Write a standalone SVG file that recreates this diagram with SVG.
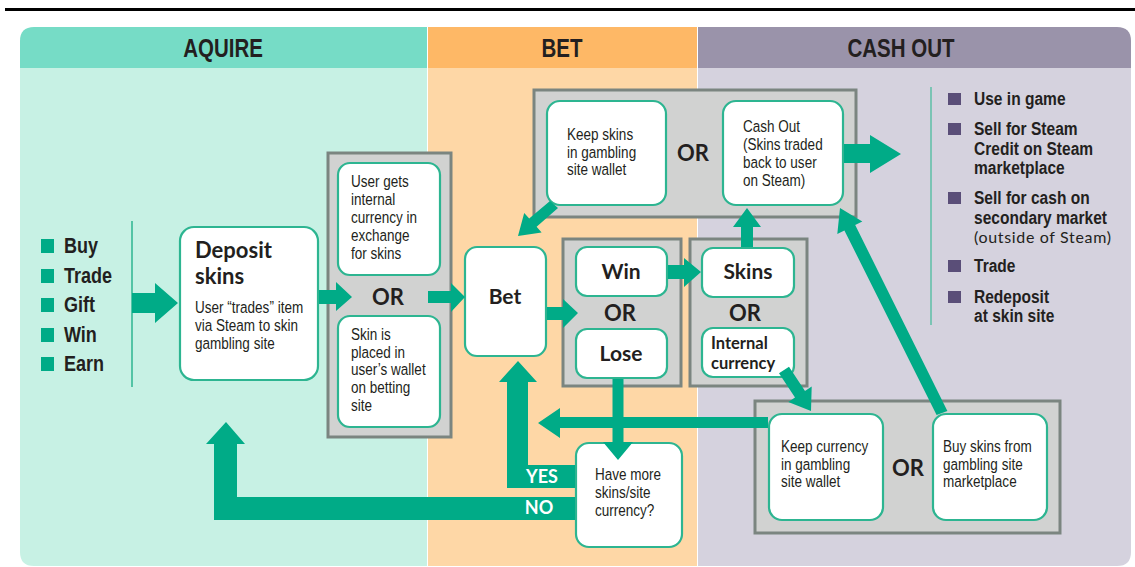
<svg xmlns="http://www.w3.org/2000/svg" width="1135" height="567" viewBox="0 0 1135 567">
<style>
.cond{font-family:"Liberation Sans",Arial,sans-serif;fill:#231f20}
.geo{font-family:Lato,"Noto Sans",sans-serif;font-weight:bold;fill:#231f20}
.hdr{font-size:25px;font-weight:bold;text-anchor:middle}
.lst{font-size:22px;font-weight:bold}
.cl{font-size:18.5px;font-weight:bold}
.sm{font-size:16.5px}
.big{font-size:21px;text-anchor:middle}
.or{font-size:22px;text-anchor:middle}
.box{fill:#fff;stroke:#2db591;stroke-width:2.2}
.grp{fill:#d1d2d1;stroke:#7b8580;stroke-width:3}
.arr{fill:#00ab87}
.wt{fill:#fff;font-size:18px;text-anchor:middle}
</style>
<rect x="0" y="0" width="1135" height="567" fill="#fff"/>
<rect x="5" y="8" width="1130" height="3" fill="#000"/>
<g id="panel-aquire">
<path d="M20,68 V41 Q20,27 34,27 H427 V68 Z" fill="#76dcc6"/>
<path d="M20,68 H427 V566 H34 Q20,566 20,552 Z" fill="#c7f1e4"/>
<text class="cond hdr" transform="translate(223,57) scale(0.82,1)">AQUIRE</text>
</g>
<g id="panel-bet">
<rect x="428" y="27" width="269" height="41" fill="#feb866"/>
<rect x="428" y="68" width="269" height="498" fill="#fed7a6"/>
<text class="cond hdr" transform="translate(562,57) scale(0.82,1)">BET</text>
</g>
<g id="panel-cashout">
<path d="M698,27 H1117 Q1131,27 1131,41 V68 H698 Z" fill="#9a93aa"/>
<path d="M698,68 H1131 V552 Q1131,566 1117,566 H698 Z" fill="#d5d2de"/>
<text class="cond hdr" transform="translate(901,57) scale(0.82,1)">CASH OUT</text>
</g>
<g id="acquire-list">
<line x1="132" y1="221" x2="132" y2="387" stroke="#2db591" stroke-width="1.5"/>
<rect x="41" y="239" width="13" height="14" fill="#00ab87"/>
<rect x="41" y="269" width="13" height="14" fill="#00ab87"/>
<rect x="41" y="298" width="13" height="14" fill="#00ab87"/>
<rect x="41" y="328" width="13" height="14" fill="#00ab87"/>
<rect x="41" y="357" width="13" height="14" fill="#00ab87"/>
<text class="cond lst" transform="translate(64,253) scale(0.82,1)">Buy</text>
<text class="cond lst" transform="translate(64,283) scale(0.82,1)">Trade</text>
<text class="cond lst" transform="translate(64,312) scale(0.82,1)">Gift</text>
<text class="cond lst" transform="translate(64,342) scale(0.82,1)">Win</text>
<text class="cond lst" transform="translate(64,371) scale(0.82,1)">Earn</text>
</g>
<g id="cashout-list">
<line x1="931" y1="87" x2="931" y2="325" stroke="#5dbfa6" stroke-width="1.5"/>
<rect x="948" y="93" width="13" height="12" fill="#5a4e78"/>
<rect x="948" y="123" width="13" height="12" fill="#5a4e78"/>
<rect x="948" y="192" width="13" height="12" fill="#5a4e78"/>
<rect x="948" y="260" width="13" height="12" fill="#5a4e78"/>
<rect x="948" y="291" width="13" height="12" fill="#5a4e78"/>
<text class="cond cl" transform="translate(974,105) scale(0.84,1)">Use in game</text>
<text class="cond cl" transform="translate(974,135) scale(0.84,1)">Sell for Steam</text>
<text class="cond cl" transform="translate(974,155) scale(0.84,1)">Credit on Steam</text>
<text class="cond cl" transform="translate(974,174) scale(0.84,1)">marketplace</text>
<text class="cond cl" transform="translate(974,204) scale(0.84,1)">Sell for cash on</text>
<text class="cond cl" transform="translate(974,224) scale(0.84,1)">secondary market</text>
<text x="974" y="243" font-family="Lato,'Noto Sans',sans-serif" font-size="16" fill="#231f20" textLength="137" lengthAdjust="spacing">(outside of Steam)</text>
<text class="cond cl" transform="translate(974,272) scale(0.84,1)">Trade</text>
<text class="cond cl" transform="translate(974,303) scale(0.84,1)">Redeposit</text>
<text class="cond cl" transform="translate(974,322) scale(0.84,1)">at skin site</text>
</g>
<g id="group-deposit-or">
<rect class="grp" x="328" y="153" width="123" height="284"/>
<text class="geo or" x="388" y="305">OR</text>
</g>
<g id="group-top-or">
<rect class="grp" x="534" y="90" width="322" height="127"/>
<text class="geo or" x="693" y="161">OR</text>
</g>
<g id="group-winlose">
<rect class="grp" x="563" y="239" width="118" height="147"/>
<text class="geo or" x="620" y="321">OR</text>
</g>
<g id="group-result">
<rect class="grp" x="690" y="239" width="117" height="147"/>
<text class="geo or" x="745" y="321">OR</text>
</g>
<g id="group-bottom-or">
<rect class="grp" x="755" y="401" width="305" height="132"/>
<text class="geo or" x="908" y="476">OR</text>
</g>
<g id="deposit">
<rect class="box" x="180" y="227" width="138" height="153" rx="14"/>
<text class="geo" x="195" y="258" font-size="22">Deposit</text>
<text class="geo" x="195" y="284" font-size="22">skins</text>
<text class="cond sm" transform="translate(195,313) scale(0.82,1)">User “trades” item</text>
<text class="cond sm" transform="translate(195,331) scale(0.82,1)">via Steam to skin</text>
<text class="cond sm" transform="translate(195,349) scale(0.82,1)">gambling site</text>
</g>
<g id="internal-currency-exchange">
<rect class="box" x="338" y="163" width="102" height="112" rx="12"/>
<text class="cond sm" transform="translate(351,187) scale(0.82,1)">User gets</text>
<text class="cond sm" transform="translate(351,205) scale(0.82,1)">internal</text>
<text class="cond sm" transform="translate(351,223) scale(0.82,1)">currency in</text>
<text class="cond sm" transform="translate(351,241) scale(0.82,1)">exchange</text>
<text class="cond sm" transform="translate(351,259) scale(0.82,1)">for skins</text>
</g>
<g id="skin-wallet">
<rect class="box" x="338" y="316" width="102" height="111" rx="12"/>
<text class="cond sm" transform="translate(351,340) scale(0.82,1)">Skin is</text>
<text class="cond sm" transform="translate(351,358) scale(0.82,1)">placed in</text>
<text class="cond sm" transform="translate(351,375) scale(0.82,1)">user’s wallet</text>
<text class="cond sm" transform="translate(351,393) scale(0.82,1)">on betting</text>
<text class="cond sm" transform="translate(351,411) scale(0.82,1)">site</text>
</g>
<g id="bet">
<rect class="box" x="465" y="247" width="81" height="109" rx="12"/>
<text class="geo big" x="505" y="304">Bet</text>
</g>
<g id="win">
<rect class="box" x="576" y="247" width="91" height="49" rx="11"/>
<text class="geo big" x="621" y="279">Win</text>
</g>
<g id="lose">
<rect class="box" x="576" y="329" width="91" height="49" rx="11"/>
<text class="geo big" x="621" y="361">Lose</text>
</g>
<g id="skins">
<rect class="box" x="702" y="248" width="92" height="49" rx="11"/>
<text class="geo big" x="748" y="279">Skins</text>
</g>
<g id="internal-currency">
<rect class="box" x="702" y="328" width="92" height="49" rx="11"/>
<text class="geo" x="711" y="349" font-size="16.5">Internal</text>
<text class="geo" x="711" y="369" font-size="16.5">currency</text>
</g>
<g id="keep-skins">
<rect class="box" x="547" y="101" width="119" height="104" rx="13"/>
<text class="cond sm" transform="translate(567,140) scale(0.82,1)">Keep skins</text>
<text class="cond sm" transform="translate(567,158) scale(0.82,1)">in gambling</text>
<text class="cond sm" transform="translate(567,175) scale(0.82,1)">site wallet</text>
</g>
<g id="cash-out">
<rect class="box" x="723" y="101" width="120" height="104" rx="13"/>
<text class="cond sm" transform="translate(743,132) scale(0.82,1)">Cash Out</text>
<text class="cond sm" transform="translate(743,150) scale(0.82,1)">(Skins traded</text>
<text class="cond sm" transform="translate(743,168) scale(0.82,1)">back to user</text>
<text class="cond sm" transform="translate(743,186) scale(0.82,1)">on Steam)</text>
</g>
<g id="keep-currency">
<rect class="box" x="769" y="414" width="114" height="106" rx="13"/>
<text class="cond sm" transform="translate(781,452) scale(0.82,1)">Keep currency</text>
<text class="cond sm" transform="translate(781,470) scale(0.82,1)">in gambling</text>
<text class="cond sm" transform="translate(781,487) scale(0.82,1)">site wallet</text>
</g>
<g id="buy-skins">
<rect class="box" x="933" y="414" width="114" height="106" rx="13"/>
<text class="cond sm" transform="translate(943,452) scale(0.82,1)">Buy skins from</text>
<text class="cond sm" transform="translate(943,470) scale(0.82,1)">gambling site</text>
<text class="cond sm" transform="translate(943,487) scale(0.82,1)">marketplace</text>
</g>
<g id="have-more">
<rect class="box" x="576" y="443" width="106" height="104" rx="13"/>
<text class="cond sm" transform="translate(595,480) scale(0.82,1)">Have more</text>
<text class="cond sm" transform="translate(595,498) scale(0.82,1)">skins/site</text>
<text class="cond sm" transform="translate(595,516) scale(0.82,1)">currency?</text>
</g>
<g id="connectors">
<polygon class="arr" points="132,293 155,293 155,283 178,303 155,323 155,313 132,313"/>
<polygon class="arr" points="319,290 336,290 336,282 352,297 336,311 336,304 319,304"/>
<polygon class="arr" points="428,291 451,291 451,283 465,297 451,312 451,303 428,303"/>
<polygon class="arr" points="547,307 563,307 563,299 578,313 563,328 563,320 547,320"/>
<polygon class="arr" points="668,265 684,265 684,258 701,272 684,287 684,279 668,279"/>
<polygon class="arr" points="741,247 741,227 733,227 747,208 761,227 753,227 753,247"/>
<polygon class="arr" points="779,373.3 789,366.7 805,391 811.7,386.6 811,411 788.3,402 795,397.6"/>
<polygon class="arr" points="550,201 558,208 536.6,226.8 541.6,232.4 518,236 524.2,213 529.2,218.6"/>
<polygon class="arr" points="936.6,415 947.4,411 855.2,225 862.3,221.5 840,208 837.3,233.9 844.4,230.4"/>
<polygon class="arr" points="844,144 870,144 870,135 901,154 870,173 870,163 844,163"/>
<polygon class="arr" points="612.5,379 623.5,379 623.5,442 633,442 618,460 603,442 612.5,442"/>
<polygon class="arr" points="768,417 560,417 560,408 538,423 560,438 560,428 768,428"/>
<polygon class="arr" points="575,465 528,465 528,382 537,382 518,361 499,382 507,382 507,488 575,488"/>
<polygon class="arr" points="575,497 575,520 214,520 214,444 206,444 226,422 245,444 237,444 237,497"/>
<text class="geo wt" x="542" y="483">YES</text>
<text class="geo wt" x="539" y="514">NO</text>
</g>
</svg>
